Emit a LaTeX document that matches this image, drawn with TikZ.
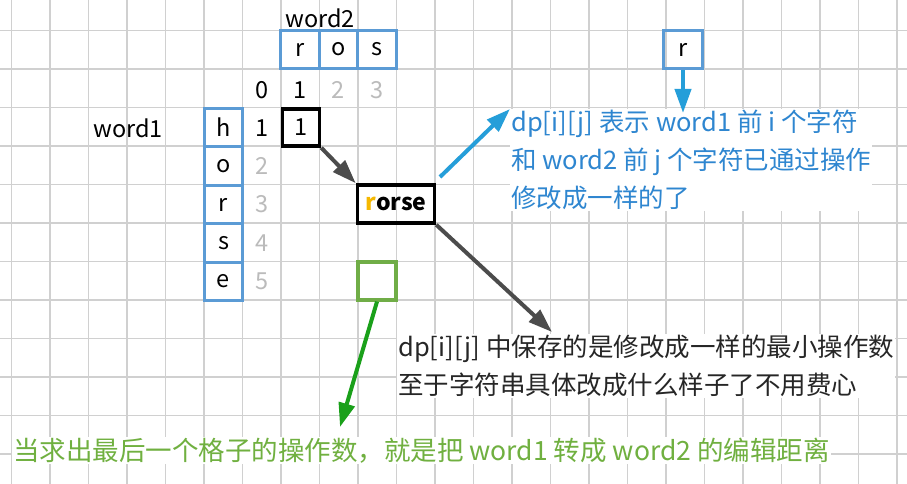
\documentclass[tikz,border=0pt]{standalone}
\usepackage{fontspec}
\setmainfont{Noto Sans CJK SC}
\usetikzlibrary{arrows.meta}
\definecolor{bbox}{HTML}{5B9BD5}
\definecolor{btxt}{HTML}{2E86D0}
\definecolor{gtxt}{HTML}{70B040}
\definecolor{gbox}{HTML}{70AD47}
\definecolor{garr}{HTML}{1AA01A}
\definecolor{ltg}{HTML}{D0D0D0}
\definecolor{orng}{HTML}{F5B800}
\tikzset{
  cell/.style={draw=bbox,line width=3.2pt,minimum width=38.5pt,minimum height=38.5pt,inner sep=0pt,font=\fontsize{23.5}{23.5}\selectfont},
  num/.style={inner sep=0pt,font=\fontsize{23.5}{23.5}\selectfont},
  dim/.style={num,text=ltg!90!black},
  fat/.style={line width=4pt,-{Triangle[length=24pt,width=16pt]}},
  note/.style={fill=white,inner sep=1pt,align=left,font=\fontsize{25.5}{38}\selectfont,anchor=north west}
}
\begin{document}
\begin{tikzpicture}[x=1pt,y=-1pt]
\useasboundingbox (0,0) rectangle (907,484);
\fill[white] (0,0) rectangle (907,484);
\foreach \i in {0,...,23} \draw[ltg,line width=1.3pt] (11.5+38.5*\i,0) -- (11.5+38.5*\i,484);
\foreach \j in {1,...,13} \draw[ltg,line width=1.3pt] (0,-8+38.5*\j) -- (907,-8+38.5*\j);
% word2
\node[num,anchor=south] (w2) at (320,28) {word2};
\node[cell] (c1) at (300,49.5) {r};
\node[cell] (c2) at (338.5,49.5) {o};
\node[cell] (c3) at (377,49.5) {s};
\node[num] (n0) at (262,90) {0};
\node[num] (n1) at (300,90) {1};
\node[dim] (n2) at (338.5,90) {2};
\node[dim] (n3) at (377,90) {3};
% word1
\node[num] (w1) at (128,128) {word1};
\node[cell] (h) at (223.5,127.5) {h};
\node[cell] (o) at (223.5,166) {o};
\node[cell] (r) at (223.5,204.5) {r};
\node[cell] (s) at (223.5,243) {s};
\node[cell] (e) at (223.5,281.5) {e};
\node[num] (m1) at (262,128) {1};
\node[dim] (m2) at (262,166) {2};
\node[dim] (m3) at (262,204.5) {3};
\node[dim] (m4) at (262,243) {4};
\node[dim] (m5) at (262,281.5) {5};
\node[draw=black,line width=3.5pt,minimum width=37pt,minimum height=37pt,inner sep=0pt,font=\fontsize{23.5}{23.5}\selectfont] (one) at (301,127.5) {1};
\node[draw=black,line width=3.5pt,minimum width=77pt,minimum height=38pt,inner sep=0pt,font=\bfseries\fontsize{23}{23}\selectfont] (rorse) at (396,204) {\textcolor{orng}{r}orse};
\node[draw=gbox,line width=3.2pt,minimum width=38pt,minimum height=38pt,inner sep=0pt] (gb) at (377,281) {};
\node[cell] (rr) at (683,49.5) {r};
% notes
\node[note,text=btxt] (bn) at (510,109) {dp[i][j] 表示 word1 前 i 个字符\\和 word2 前 j 个字符已通过操作\\修改成一样的了};
\node[note,text=black!85] (kn) at (397,334) {dp[i][j] 中保存的是修改成一样的最小操作数\\至于字符串具体改成什么样子了不用费心};
\node[note,text=gtxt,font=\fontsize{26.5}{30}\selectfont] (gn) at (12,437) {当求出最后一个格子的操作数，就是把 word1 转成 word2 的编辑距离};
% arrows
\draw[fat,draw=black!70,fill=black!70] (one.south east) -- (rorse.north west);
\draw[fat,draw=black!70,fill=black!70] (rorse.south east) -- (552,332);
\draw[fat,draw=btxt!80!cyan,fill=btxt!80!cyan] (440,177) -- (bn.north west);
\draw[fat,draw=btxt!80!cyan,fill=btxt!80!cyan] (rr.south) -- (683,113);
\draw[fat,draw=garr,fill=garr] (gb.south) -- (340,427);
\end{tikzpicture}
\end{document}
